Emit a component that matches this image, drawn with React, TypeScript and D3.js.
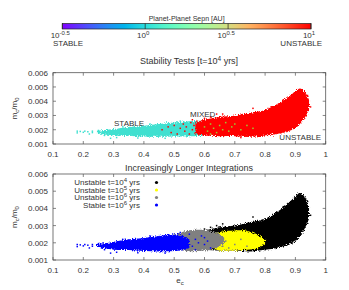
import React from 'react';
import * as d3 from 'd3';

// axis ticks
const ecTicks = [0.1, 0.2, 0.3, 0.4, 0.5, 0.6, 0.7, 0.8, 0.9, 1];
const mTicks = [0.001, 0.002, 0.003, 0.004, 0.005, 0.006];
const cbTicks = [-0.5, 0, 0.5, 1];
const cbTickLabels = ['-0.5', '0', '0.5', '1'];

// cloud envelopes (e_c, lower / upper m_c/m_0)
const stableTopEnv = [
  { e: 0.245, lo: 0.00178, hi: 0.00192 },
  { e: 0.28, lo: 0.00165, hi: 0.002 },
  { e: 0.3, lo: 0.0016, hi: 0.00205 },
  { e: 0.35, lo: 0.00158, hi: 0.0022 },
  { e: 0.4, lo: 0.00152, hi: 0.00228 },
  { e: 0.45, lo: 0.0015, hi: 0.0024 },
  { e: 0.5, lo: 0.00152, hi: 0.0025 },
  { e: 0.55, lo: 0.00155, hi: 0.0026 },
  { e: 0.6, lo: 0.0016, hi: 0.0026 },
  { e: 0.63, lo: 0.0018, hi: 0.0024 },
];
const unstableEnv = [
  { e: 0.57, lo: 0.0017, hi: 0.0025 },
  { e: 0.6, lo: 0.0016, hi: 0.0027 },
  { e: 0.65, lo: 0.00155, hi: 0.0029 },
  { e: 0.7, lo: 0.00155, hi: 0.003 },
  { e: 0.75, lo: 0.0015, hi: 0.0032 },
  { e: 0.8, lo: 0.0016, hi: 0.0034 },
  { e: 0.84, lo: 0.0017, hi: 0.0038 },
  { e: 0.87, lo: 0.00185, hi: 0.0042 },
  { e: 0.9, lo: 0.0021, hi: 0.0047 },
  { e: 0.915, lo: 0.0024, hi: 0.0049 },
  { e: 0.93, lo: 0.0028, hi: 0.0047 },
  { e: 0.945, lo: 0.0034, hi: 0.0041 },
];
const stableBotEnv = [
  { e: 0.245, lo: 0.00178, hi: 0.00192 },
  { e: 0.28, lo: 0.00165, hi: 0.002 },
  { e: 0.3, lo: 0.0016, hi: 0.00205 },
  { e: 0.35, lo: 0.00158, hi: 0.0022 },
  { e: 0.4, lo: 0.00152, hi: 0.00228 },
  { e: 0.45, lo: 0.0015, hi: 0.0024 },
  { e: 0.5, lo: 0.00152, hi: 0.0025 },
  { e: 0.53, lo: 0.00158, hi: 0.0024 },
  { e: 0.55, lo: 0.0017, hi: 0.0022 },
];
const grayEnv = [
  { e: 0.5, lo: 0.0017, hi: 0.0024 },
  { e: 0.54, lo: 0.00152, hi: 0.0027 },
  { e: 0.6, lo: 0.00155, hi: 0.00275 },
  { e: 0.64, lo: 0.0017, hi: 0.0026 },
  { e: 0.665, lo: 0.002, hi: 0.0023 },
];
const yellowEnv = [
  { e: 0.61, lo: 0.0019, hi: 0.0025 },
  { e: 0.64, lo: 0.0016, hi: 0.0026 },
  { e: 0.68, lo: 0.00155, hi: 0.0027 },
  { e: 0.74, lo: 0.0016, hi: 0.0027 },
  { e: 0.78, lo: 0.0017, hi: 0.0024 },
  { e: 0.8, lo: 0.0019, hi: 0.0022 },
];

// scattered points outside the dense clouds
const sparseStable: [number, number][] = [
  [0.18, 0.0019], [0.18, 0.00178], [0.19, 0.00188], [0.2, 0.00182], [0.205, 0.0019],
  [0.215, 0.00186], [0.22, 0.0017], [0.23, 0.0019], [0.23, 0.0018], [0.25, 0.00195],
  [0.26, 0.0017], [0.27, 0.0016], [0.29, 0.0014], [0.31, 0.00145], [0.33, 0.0022],
  [0.38, 0.00142], [0.42, 0.0024], [0.47, 0.0014], [0.52, 0.0026],
];
const mixedRed: [number, number][] = [
  [0.46, 0.002], [0.48, 0.0022], [0.49, 0.0018], [0.5, 0.0023], [0.51, 0.0017],
  [0.52, 0.0021], [0.53, 0.0024], [0.535, 0.0019], [0.54, 0.0022], [0.55, 0.0017],
  [0.555, 0.0025], [0.56, 0.002], [0.565, 0.0023], [0.57, 0.0018], [0.575, 0.0026],
  [0.58, 0.0021], [0.585, 0.0017], [0.59, 0.0024], [0.595, 0.0019], [0.56, 0.0027],
  [0.6, 0.0028], [0.62, 0.0029], [0.64, 0.0031], [0.66, 0.0031], [0.76, 0.0035],
  [0.93, 0.0037], [0.95, 0.0036], [0.94, 0.0044], [0.86, 0.0041], [0.72, 0.00145],
];
const mixedGreen: [number, number][] = [
  [0.6, 0.0022], [0.61, 0.0019], [0.62, 0.0024], [0.63, 0.0021], [0.64, 0.0018],
  [0.65, 0.0023], [0.66, 0.002], [0.67, 0.0025], [0.68, 0.0019], [0.69, 0.0022],
  [0.7, 0.0024], [0.72, 0.002], [0.74, 0.0023], [0.76, 0.0021], [0.62, 0.0017],
];
const blackOut: [number, number][] = [
  [0.58, 0.0027], [0.6, 0.0028], [0.62, 0.0029], [0.64, 0.003], [0.66, 0.0031],
  [0.76, 0.0035], [0.93, 0.0037], [0.95, 0.0036], [0.94, 0.0044], [0.86, 0.0041],
  [0.8, 0.0016], [0.82, 0.0017],
];
const grayMix: [number, number][] = [
  [0.48, 0.0022], [0.49, 0.0019], [0.5, 0.0025], [0.51, 0.0021], [0.66, 0.0018],
  [0.67, 0.0021], [0.68, 0.0017], [0.7, 0.0019], [0.72, 0.0022], [0.74, 0.0018],
];
const blueMix: [number, number][] = [
  [0.56, 0.0018], [0.57, 0.0022], [0.58, 0.002], [0.59, 0.0024], [0.6, 0.0019],
  [0.61, 0.0021], [0.62, 0.0017], [0.57, 0.0016], [0.6, 0.0023], [0.55, 0.0025],
];

const legendItems = [
  { label: 'Unstable t=10', exp: '4', color: '#000000' },
  { label: 'Unstable t=10', exp: '5', color: '#ffff00' },
  { label: 'Unstable t=10', exp: '6', color: '#808080' },
  { label: 'Stable t=10', exp: '6', color: '#0000ff' },
];

const FONT = 'Liberation Sans, Arial, sans-serif';
const TXT = '#333';

// matplotlib-like rainbow colormap
const rainbow = (t: number) => {
  const r = Math.abs(2 * t - 0.5);
  const g = Math.sin(Math.PI * t);
  const b = Math.cos((Math.PI * t) / 2);
  const c = (v: number) => Math.round(Math.max(0, Math.min(1, v)) * 255);
  return `rgb(${c(r)},${c(g)},${c(b)})`;
};

const xScale = d3.scaleLinear().domain([0.1, 1]).range([53, 325.7]);

type Env = { e: number; lo: number; hi: number };

const Cloud: React.FC<{ env: Env[]; y: d3.ScaleLinear<number, number>; color: string }> = ({ env, y, color }) => {
  const area = d3.area<Env>()
    .x(d => xScale(d.e))
    .y0(d => y(d.lo))
    .y1(d => y(d.hi))
    .curve(d3.curveCatmullRom);
  return <path d={area(env) || ''} fill={color} filter="url(#rough)" />;
};

const Dots: React.FC<{ pts: [number, number][]; y: d3.ScaleLinear<number, number>; color: string }> = ({ pts, y, color }) => (
  <g fill={color}>
    {pts.map((p, i) => (
      <rect key={i} x={xScale(p[0]) - 0.75} y={y(p[1]) - 0.75} width={1.5} height={1.5} />
    ))}
  </g>
);

const Frame: React.FC<{ y: d3.ScaleLinear<number, number> }> = ({ y }) => {
  const [x0, x1] = xScale.range();
  const [yb, yt] = y.range();
  return (
    <g>
      <rect x={x0} y={yt} width={x1 - x0} height={yb - yt} fill="none" stroke="#555" strokeWidth={0.8} />
      {ecTicks.map(t => (
        <g key={t}>
          <line x1={xScale(t)} x2={xScale(t)} y1={yb} y2={yb - 3} stroke="#555" strokeWidth={0.7} />
          <line x1={xScale(t)} x2={xScale(t)} y1={yt} y2={yt + 3} stroke="#555" strokeWidth={0.7} />
          <text x={xScale(t)} y={yb + 13} textAnchor="middle" fontSize={8} fill={TXT}>{d3.format('')(t)}</text>
        </g>
      ))}
      {mTicks.map(t => (
        <g key={t}>
          <line x1={x0} x2={x0 + 3} y1={y(t)} y2={y(t)} stroke="#555" strokeWidth={0.7} />
          <line x1={x1} x2={x1 - 3} y1={y(t)} y2={y(t)} stroke="#555" strokeWidth={0.7} />
          <text x={48} y={y(t) + 3} textAnchor="end" fontSize={8} fill={TXT}>{d3.format('.3f')(t)}</text>
        </g>
      ))}
      <text transform={`translate(17,${(yb + yt) / 2}) rotate(-90)`} textAnchor="middle" fontSize={8} fill={TXT}>
        <tspan>m</tspan><tspan dy={2} fontSize={6}>c</tspan><tspan dy={-2}>/m</tspan><tspan dy={2} fontSize={6}>0</tspan>
      </text>
    </g>
  );
};

export default function App() {
  const yTop = d3.scaleLinear().domain([0.001, 0.006]).range([144, 72.7]);
  const yBot = d3.scaleLinear().domain([0.001, 0.006]).range([260, 174]);
  const cb = d3.scaleLinear().domain([-0.5, 1]).range([62.3, 311]);
  const stops = d3.range(0, 1.0001, 0.05);

  return (
    <svg width={349} height={290} style={{ position: 'absolute', left: 0, top: 0, background: '#fff' }} fontFamily={FONT}>
      <defs>
        <linearGradient id="rb" x1="0" x2="1" y1="0" y2="0">
          {stops.map(s => <stop key={s} offset={s} stopColor={rainbow(s)} />)}
        </linearGradient>
        <filter id="rough" x="-5%" y="-30%" width="110%" height="160%">
          <feTurbulence type="fractalNoise" baseFrequency="1.1" numOctaves={2} seed={4} result="n" />
          <feDisplacementMap in="SourceGraphic" in2="n" scale={5} xChannelSelector="R" yChannelSelector="G" />
        </filter>
      </defs>

      {/* colour bar */}
      <text x={cb(0.25)} y={21} textAnchor="middle" fontSize={7} fill={TXT}>Planet-Planet Sepn [AU]</text>
      <rect x={cb(-0.5)} y={23.5} width={cb(1) - cb(-0.5)} height={5.5} fill="url(#rb)" stroke="#222" strokeWidth={0.7} />
      {cbTicks.map((t, i) => (
        <g key={t}>
          <line x1={cb(t)} x2={cb(t)} y1={23.5} y2={29} stroke="#222" strokeWidth={0.7} />
          <text x={cb(t) - 2} y={38} textAnchor="middle" fontSize={8} fill={TXT}>
            <tspan>10</tspan><tspan dy={-3} fontSize={6}>{cbTickLabels[i]}</tspan>
          </text>
        </g>
      ))}
      <text x={53} y={46} fontSize={8} fill={TXT}>STABLE</text>
      <text x={322} y={46} textAnchor="end" fontSize={8} fill={TXT}>UNSTABLE</text>

      {/* top panel */}
      <text x={189} y={64} textAnchor="middle" fontSize={9} fill={TXT}>
        <tspan>Stability Tests [t=10</tspan><tspan dy={-3.5} fontSize={6.5}>4</tspan><tspan dy={3.5}> yrs]</tspan>
      </text>
      <Dots pts={sparseStable} y={yTop} color="#40e0d0" />
      <Cloud env={stableTopEnv} y={yTop} color="#40e0d0" />
      <Cloud env={unstableEnv} y={yTop} color="#ff0000" />
      <Dots pts={mixedRed} y={yTop} color="#ff0000" />
      <Dots pts={mixedGreen} y={yTop} color="#9acd32" />
      <text x={114} y={126} fontSize={8} fill={TXT}>STABLE</text>
      <text x={190} y={117} fontSize={8} fill={TXT}>MIXED</text>
      <text x={321} y={140} textAnchor="end" fontSize={8} fill={TXT}>UNSTABLE</text>
      <Frame y={yTop} />

      {/* bottom panel */}
      <text x={189} y={171} textAnchor="middle" fontSize={9} fill={TXT}>Increasingly Longer Integrations</text>
      <Cloud env={unstableEnv} y={yBot} color="#000000" />
      <Dots pts={blackOut} y={yBot} color="#000000" />
      <Cloud env={yellowEnv} y={yBot} color="#ffff00" />
      <Cloud env={grayEnv} y={yBot} color="#808080" />
      <Dots pts={grayMix} y={yBot} color="#808080" />
      <Cloud env={stableBotEnv} y={yBot} color="#0000ff" />
      <Dots pts={sparseStable} y={yBot} color="#0000ff" />
      <Dots pts={blueMix} y={yBot} color="#0000ff" />
      {legendItems.map((d, i) => (
        <g key={i}>
          <text x={140} y={185 + i * 7.5} textAnchor="end" fontSize={8} fill={TXT}>
            <tspan>{d.label}</tspan><tspan dy={-3} fontSize={6}>{d.exp}</tspan><tspan dy={3}> yrs</tspan>
          </text>
          <circle cx={156.5} cy={182.5 + i * 7.5} r={1.6} fill={d.color} />
        </g>
      ))}
      <Frame y={yBot} />
      <text x={180} y={283} textAnchor="middle" fontSize={8} fill={TXT}>
        <tspan>e</tspan><tspan dy={2} fontSize={6}>c</tspan>
      </text>
    </svg>
  );
}
